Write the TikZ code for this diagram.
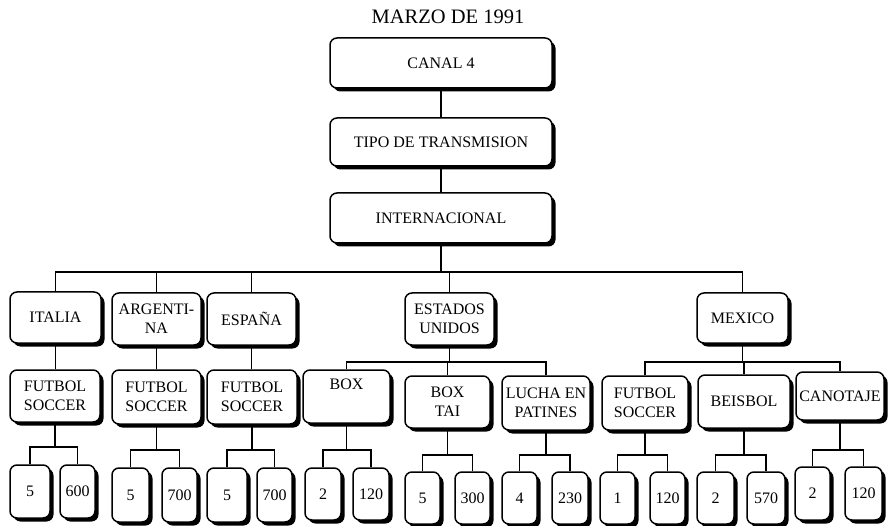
\documentclass[tikz,border=0pt]{standalone}
\usepackage{fontspec}
\setmainfont{Liberation Serif}
\usetikzlibrary{shadows}
\tikzset{
 box/.style={draw, line width=1.5pt, rounded corners=7pt, fill=white, align=center, inner sep=0pt,
   font=\fontsize{16}{19}\selectfont,
   drop shadow={shadow xshift=3.5pt, shadow yshift=-3.5pt, opacity=1, fill=black}},
 conn/.style={line width=1.3pt},
 ttl/.style={font=\fontsize{20.5}{24}\selectfont, inner sep=0pt}
}
\newcommand\bx[6]{\node[box, minimum width={(#4-#2)*1pt}, minimum height={(#5-#3)*1pt}] (#1) at ({(#2+#4)/2},{(#3+#5)/2}) {#6};}
\newcommand\tconn[3]{\draw[conn] (#1.south) |- (#3 -| #2.north) -- (#2.north);}
\begin{document}
\begin{tikzpicture}[x=1pt,y=-1pt]
\useasboundingbox (0,0) rectangle (888,526);
\fill[white] (0,0) rectangle (888,526);
\node[ttl] (title) at (448,17) {MARZO DE 1991};
% top chain
\bx{c4}{330}{38}{552}{88}{CANAL 4}
\bx{tipo}{330}{118}{552}{166}{TIPO DE TRANSMISION}
\bx{intl}{330}{193}{552}{243}{INTERNACIONAL}
% countries
\bx{it}{10}{292}{101}{343}{ITALIA}
\bx{ar}{112}{293}{201}{345}{ARGENTI-\\NA}
\bx{es}{207}{293}{296}{345}{ESPAÑA}
\bx{eu}{405}{293}{494}{345}{ESTADOS\\UNIDOS}
\bx{mx}{697}{293}{788}{343}{MEXICO}
% sports
\bx{fs1}{10}{370}{100}{422}{FUTBOL\\SOCCER}
\bx{fs2}{112}{370}{201}{424}{FUTBOL\\SOCCER}
\bx{fs3}{207}{370}{297}{424}{FUTBOL\\SOCCER}
\bx{box}{303}{370}{390}{423}{BOX\\\strut}
\bx{boxtai}{405}{376}{490}{428}{BOX\\TAI}
\bx{lucha}{502}{376}{590}{430}{LUCHA EN\\PATINES}
\bx{fsm}{602}{376}{688}{430}{FUTBOL\\SOCCER}
\bx{beis}{698}{375}{790}{428}{BEISBOL}
\bx{cano}{796}{372}{884}{420}{CANOTAJE}
% leaves
\bx{l1a}{10}{465}{50}{518}{5}
\bx{l1b}{60}{465}{95}{518}{600}
\bx{l2a}{112}{468}{149}{522}{5}
\bx{l2b}{162}{468}{197}{522}{700}
\bx{l3a}{207}{468}{247}{522}{5}
\bx{l3b}{257}{468}{292}{522}{700}
\bx{l4a}{305}{468}{341}{520}{2}
\bx{l4b}{353}{468}{389}{520}{120}
\bx{l5a}{405}{472}{440}{524}{5}
\bx{l5b}{455}{472}{490}{524}{300}
\bx{l6a}{502}{472}{537}{524}{4}
\bx{l6b}{552}{472}{588}{524}{230}
\bx{l7a}{600}{472}{635}{524}{1}
\bx{l7b}{650}{472}{685}{524}{120}
\bx{l8a}{697}{472}{734}{524}{2}
\bx{l8b}{747}{472}{785}{524}{570}
\bx{l9a}{795}{467}{830}{520}{2}
\bx{l9b}{845}{467}{882}{520}{120}
% bus coordinates
\coordinate (bI) at (0,272);
\coordinate (bEU) at (0,362);
\coordinate (bMX) at (0,362);
\coordinate (b1) at (0,447);
\coordinate (b2) at (0,450);
\coordinate (b3) at (0,450);
\coordinate (b4) at (0,450);
\coordinate (b5) at (0,455);
\coordinate (b6) at (0,455);
\coordinate (b7) at (0,455);
\coordinate (b8) at (0,455);
\coordinate (b9) at (0,450);
% connectors
\draw[conn] (c4.south) -- (tipo.north);
\draw[conn] (tipo.south) -- (intl.north);
\tconn{intl}{it}{bI}
\tconn{intl}{ar}{bI}
\tconn{intl}{es}{bI}
\tconn{intl}{eu}{bI}
\tconn{intl}{mx}{bI}
\draw[conn] (it.south) -- (it.south |- fs1.north);
\draw[conn] (ar.south) -- (ar.south |- fs2.north);
\draw[conn] (es.south) -- (es.south |- fs3.north);
\tconn{eu}{box}{bEU}
\tconn{eu}{boxtai}{bEU}
\tconn{eu}{lucha}{bEU}
\tconn{mx}{fsm}{bMX}
\tconn{mx}{beis}{bMX}
\tconn{mx}{cano}{bMX}
\tconn{fs1}{l1a}{b1}
\tconn{fs1}{l1b}{b1}
\tconn{fs2}{l2a}{b2}
\tconn{fs2}{l2b}{b2}
\tconn{fs3}{l3a}{b3}
\tconn{fs3}{l3b}{b3}
\tconn{box}{l4a}{b4}
\tconn{box}{l4b}{b4}
\tconn{boxtai}{l5a}{b5}
\tconn{boxtai}{l5b}{b5}
\tconn{lucha}{l6a}{b6}
\tconn{lucha}{l6b}{b6}
\tconn{fsm}{l7a}{b7}
\tconn{fsm}{l7b}{b7}
\tconn{beis}{l8a}{b8}
\tconn{beis}{l8b}{b8}
\tconn{cano}{l9a}{b9}
\tconn{cano}{l9b}{b9}
\end{tikzpicture}
\end{document}
